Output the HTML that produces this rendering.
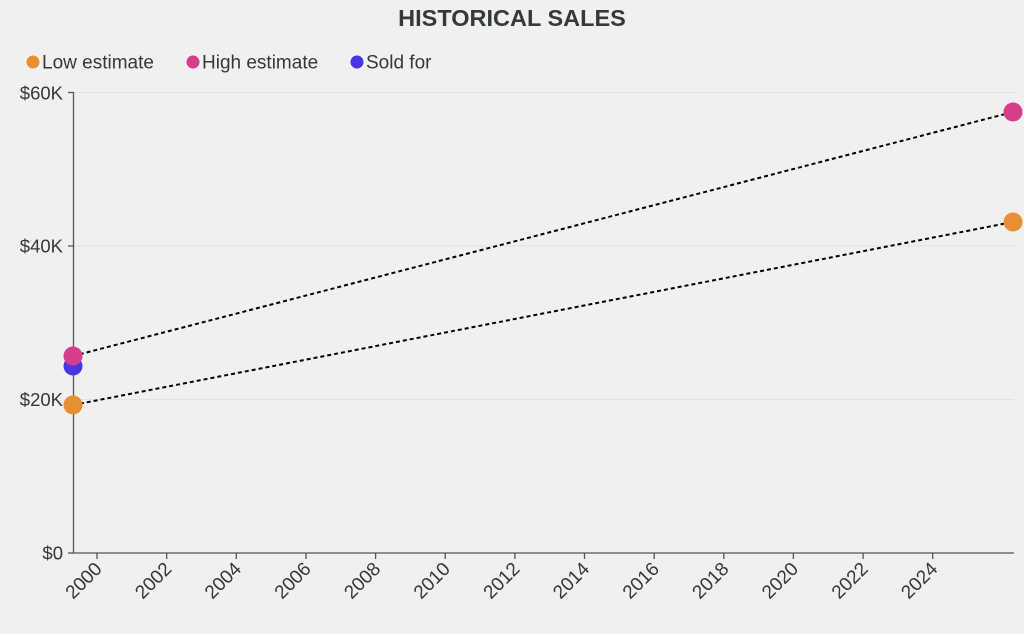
<!DOCTYPE html>
<html><head><meta charset="utf-8"><style>
html,body{margin:0;padding:0;background:#f0f0f0;}
svg{display:block;font-family:"Liberation Sans",sans-serif;}
</style></head><body>
<svg width="1024" height="634" viewBox="0 0 1024 634" xmlns="http://www.w3.org/2000/svg">
<rect width="1024" height="634" fill="#f0f0f0"/>
<text x="512" y="26" text-anchor="middle" font-size="23.5" font-weight="bold" fill="#343a3c">HISTORICAL SALES</text>
<g font-size="19" fill="#33383b">
<circle cx="33" cy="62" r="7" fill="#e88e35" stroke="#fff" stroke-width="0.8"/>
<text x="42" y="68.5">Low estimate</text>
<circle cx="193" cy="62" r="7" fill="#d63d8b" stroke="#fff" stroke-width="0.8"/>
<text x="202" y="68.5">High estimate</text>
<circle cx="357" cy="62" r="7" fill="#4a36e0" stroke="#fff" stroke-width="0.8"/>
<text x="366" y="68.5">Sold for</text>
</g>
<g stroke="#e2e2e2" stroke-width="1">
<line x1="74" y1="92.5" x2="1014" y2="92.5"/>
<line x1="74" y1="246" x2="1014" y2="246"/>
<line x1="74" y1="399.5" x2="1014" y2="399.5"/>
</g>
<g stroke="#555" stroke-width="1.3">
<line x1="73.5" y1="92" x2="73.5" y2="553"/>
<line x1="73" y1="553" x2="1014" y2="553"/>
<line x1="68" y1="92.5" x2="73.5" y2="92.5"/>
<line x1="68" y1="246" x2="73.5" y2="246"/>
<line x1="68" y1="399.5" x2="73.5" y2="399.5"/>
<line x1="68" y1="553" x2="73.5" y2="553"/>
<line x1="97" y1="553" x2="97" y2="559"/>
<line x1="166.7" y1="553" x2="166.7" y2="559"/>
<line x1="236.3" y1="553" x2="236.3" y2="559"/>
<line x1="306" y1="553" x2="306" y2="559"/>
<line x1="375.6" y1="553" x2="375.6" y2="559"/>
<line x1="445.2" y1="553" x2="445.2" y2="559"/>
<line x1="514.9" y1="553" x2="514.9" y2="559"/>
<line x1="584.5" y1="553" x2="584.5" y2="559"/>
<line x1="654.2" y1="553" x2="654.2" y2="559"/>
<line x1="723.8" y1="553" x2="723.8" y2="559"/>
<line x1="793.4" y1="553" x2="793.4" y2="559"/>
<line x1="863.1" y1="553" x2="863.1" y2="559"/>
<line x1="932.7" y1="553" x2="932.7" y2="559"/>
</g>
<g font-size="18.5" fill="#33383b" text-anchor="end">
<text x="63" y="99.5">$60K</text>
<text x="63" y="252.5">$40K</text>
<text x="63" y="406">$20K</text>
<text x="63" y="559.5">$0</text>
</g>
<g font-size="19" fill="#33383b" text-anchor="end">
<text transform="translate(103,570) rotate(-45)">2000</text>
<text transform="translate(172.7,570) rotate(-45)">2002</text>
<text transform="translate(242.3,570) rotate(-45)">2004</text>
<text transform="translate(312,570) rotate(-45)">2006</text>
<text transform="translate(381.6,570) rotate(-45)">2008</text>
<text transform="translate(451.2,570) rotate(-45)">2010</text>
<text transform="translate(520.9,570) rotate(-45)">2012</text>
<text transform="translate(590.5,570) rotate(-45)">2014</text>
<text transform="translate(660.2,570) rotate(-45)">2016</text>
<text transform="translate(729.8,570) rotate(-45)">2018</text>
<text transform="translate(799.4,570) rotate(-45)">2020</text>
<text transform="translate(869.1,570) rotate(-45)">2022</text>
<text transform="translate(938.7,570) rotate(-45)">2024</text>
</g>
<g stroke="#000" stroke-width="2" stroke-dasharray="4,3" fill="none">
<line x1="73" y1="356" x2="1013" y2="112"/>
<line x1="73" y1="405" x2="1013" y2="222"/>
</g>
<circle cx="73" cy="366" r="9.5" fill="#4a36e0"/>
<circle cx="73" cy="356" r="9.5" fill="#d63d8b"/>
<circle cx="73" cy="405" r="9.5" fill="#e88e35"/>
<circle cx="1013" cy="112" r="9.5" fill="#d63d8b"/>
<circle cx="1013" cy="222" r="9.5" fill="#e88e35"/>
</svg>
</body></html>
